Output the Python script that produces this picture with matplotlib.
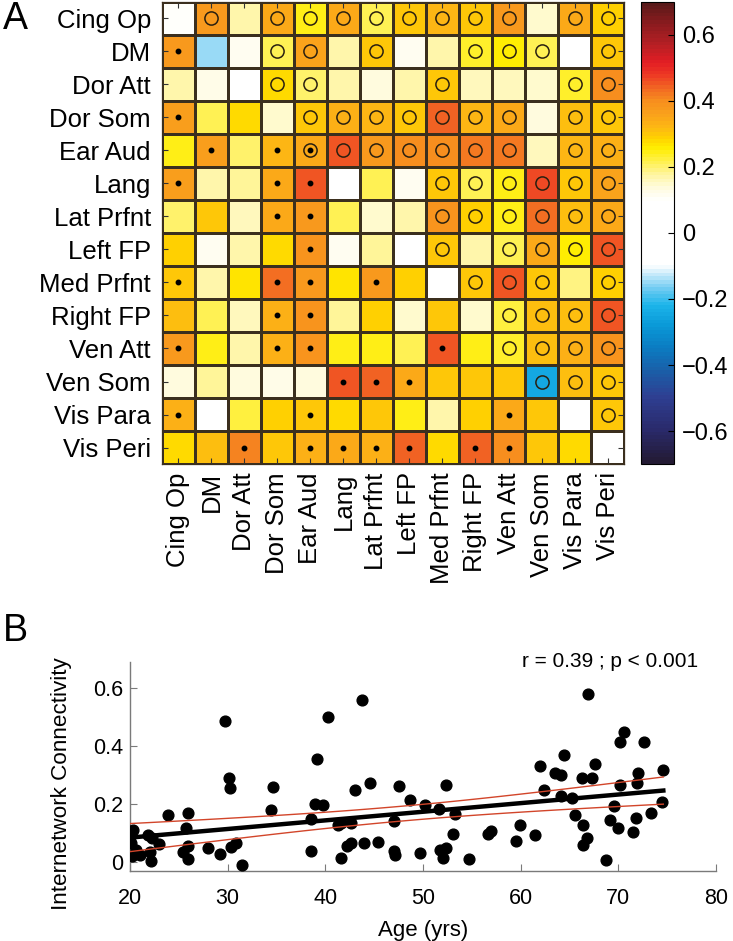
import numpy as np
import matplotlib
matplotlib.use("Agg")
import matplotlib.pyplot as plt
from matplotlib.colors import LinearSegmentedColormap

plt.rcParams['font.family'] = ['Liberation Sans', 'DejaVu Sans']

# ---- panel A data: mean internetwork connectivity change
networks = ["Cing Op", "DM", "Dor Att", "Dor Som", "Ear Aud", "Lang", "Lat Prfnt",
            "Left FP", "Med Prfnt", "Right FP", "Ven Att", "Ven Som", "Vis Para", "Vis Peri"]

conn_matrix = [
    [0.10, 0.38, 0.17, 0.35, 0.25, 0.35, 0.21, 0.30, 0.32, 0.30, 0.38, 0.15, 0.35, 0.29],
    [0.38, -0.15, 0.12, 0.21, 0.36, 0.17, 0.30, 0.12, 0.17, 0.24, 0.26, 0.21, 0.05, 0.30],
    [0.17, 0.13, 0.05, 0.28, 0.20, 0.17, 0.14, 0.17, 0.30, 0.16, 0.16, 0.15, 0.23, 0.40],
    [0.37, 0.21, 0.28, 0.15, 0.30, 0.33, 0.32, 0.30, 0.44, 0.32, 0.34, 0.14, 0.31, 0.30],
    [0.25, 0.37, 0.20, 0.32, 0.34, 0.45, 0.38, 0.40, 0.40, 0.42, 0.42, 0.16, 0.32, 0.33],
    [0.37, 0.17, 0.18, 0.34, 0.45, 0.05, 0.21, 0.12, 0.30, 0.21, 0.25, 0.46, 0.30, 0.36],
    [0.20, 0.30, 0.16, 0.35, 0.38, 0.21, 0.15, 0.17, 0.39, 0.29, 0.25, 0.43, 0.31, 0.35],
    [0.29, 0.12, 0.17, 0.28, 0.39, 0.12, 0.18, 0.05, 0.30, 0.17, 0.21, 0.35, 0.26, 0.45],
    [0.30, 0.17, 0.27, 0.43, 0.38, 0.27, 0.38, 0.29, 0.05, 0.30, 0.45, 0.30, 0.19, 0.29],
    [0.31, 0.21, 0.16, 0.33, 0.39, 0.18, 0.29, 0.15, 0.30, 0.15, 0.22, 0.31, 0.31, 0.45],
    [0.38, 0.25, 0.17, 0.33, 0.39, 0.25, 0.25, 0.21, 0.45, 0.25, 0.24, 0.31, 0.33, 0.39],
    [0.14, 0.18, 0.14, 0.13, 0.14, 0.45, 0.44, 0.34, 0.30, 0.30, 0.30, -0.25, 0.31, 0.30],
    [0.33, 0.05, 0.22, 0.29, 0.30, 0.28, 0.30, 0.25, 0.17, 0.29, 0.34, 0.30, 0.05, 0.30],
    [0.28, 0.31, 0.41, 0.30, 0.33, 0.35, 0.33, 0.44, 0.28, 0.44, 0.40, 0.30, 0.28, 0.05],
]

# significance marks: 'o' = circle, '.' = dot, '*' = both, ' ' = none
sig_marks = [
    " o oooooooo oo",
    ".  oo o  ooo o",
    "   oo   o   oo",
    ".   ooooooo oo",
    " . .*oooooo oo",
    ".  ..   oooooo",
    "   ..   oooooo",
    "    .   o oooo",
    ".  .. .  ooo o",
    "   ..     oooo",
    ".  ..   . oooo",
    "     ...   ooo",
    ".   .     .  o",
    "  . .... ..   ",
]

# ---- panel B data: age vs internetwork connectivity
age = [20.1, 20.3, 20.05, 20.2, 20.6, 21.0, 21.8, 22.0, 22.1, 22.3, 23.0, 23.9, 25.4, 25.7,
       25.9, 25.9, 25.9, 28.0, 29.2, 29.7, 30.1, 30.2, 30.3, 30.9, 31.5, 34.4, 34.6, 38.5,
       38.5, 38.9, 39.1, 39.8, 40.3, 41.3, 41.6, 41.6, 42.2, 42.6, 42.6, 43.0, 43.7, 44.0,
       44.6, 45.4, 47.0, 47.0, 47.1, 47.5, 48.7, 49.7, 50.2, 51.6, 51.7, 52.0, 52.3, 52.3,
       53.1, 53.3, 54.7, 56.7, 57.0, 59.5, 59.9, 61.5, 62.0, 62.4, 63.5, 64.1, 64.1, 64.4,
       65.3, 65.6, 66.3, 66.4, 66.4, 66.8, 66.9, 67.3, 67.6, 68.7, 69.1, 69.5, 70.0, 70.2,
       70.2, 70.6, 71.5, 71.8, 71.9, 72.0, 72.6, 73.3, 74.5, 74.6]
connectivity = [0.095, 0.11, 0.066, 0.02, 0.043, 0.026, 0.095, 0.037, 0.005, 0.084, 0.063,
                0.163, 0.037, 0.119, 0.169, 0.055, 0.012, 0.049, 0.029, 0.485, 0.29, 0.256,
                0.052, 0.066, -0.01, 0.18, 0.258, 0.15, 0.04, 0.2, 0.355, 0.197, 0.5, 0.13,
                0.136, 0.014, 0.055, 0.066, 0.136, 0.25, 0.558, 0.066, 0.273, 0.069, 0.142,
                0.04, 0.026, 0.264, 0.215, 0.031, 0.197, 0.185, 0.041, 0.014, 0.049, 0.267,
                0.098, 0.167, 0.012, 0.098, 0.107, 0.072, 0.13, 0.095, 0.33, 0.249, 0.308,
                0.299, 0.229, 0.371, 0.221, 0.162, 0.29, 0.128, 0.06, 0.084, 0.581, 0.29,
                0.337, 0.008, 0.145, 0.194, 0.119, 0.266, 0.415, 0.45, 0.105, 0.153, 0.273,
                0.308, 0.413, 0.171, 0.209, 0.319]
stats_text = "r = 0.39 ; p < 0.001"

# colormap (white around zero, hot above, blue below)
stops = [(-0.70, "#231a33"), (-0.60, "#2a2a6b"), (-0.50, "#2e3f92"), (-0.42, "#1a5fa8"),
         (-0.35, "#0b7cc2"), (-0.28, "#0a9ad8"), (-0.22, "#1cb5ea"), (-0.17, "#6fcbf2"),
         (-0.12, "#d2eefb"), (-0.10, "#ffffff"), (0.10, "#ffffff"), (0.14, "#fffbdc"),
         (0.18, "#fff59d"), (0.22, "#fff04a"), (0.26, "#ffed00"), (0.29, "#ffd200"),
         (0.32, "#fdb913"), (0.36, "#faa21b"), (0.40, "#f7901e"), (0.44, "#f26a23"),
         (0.48, "#ee3b24"), (0.52, "#e31e24"), (0.58, "#b21f24"), (0.64, "#8a1b1e"),
         (0.70, "#5a1a1a")]
cmap = LinearSegmentedColormap.from_list("hotcold", [((v + 0.7) / 1.4, c) for v, c in stops], N=128)

fig = plt.figure(figsize=(7.33, 9.41), dpi=100)

# ---------------- panel A
ax = fig.add_axes([0.2210, 0.5069, 0.6303, 0.4910])
vals = np.array(conn_matrix)
n = len(networks)
mesh = ax.pcolormesh(np.arange(n + 1), np.arange(n + 1), vals, cmap=cmap, vmin=-0.7, vmax=0.7,
                     edgecolors="#3b2f1e", linewidth=0.9)
ax.set_xlim(0, n)
ax.set_ylim(n, 0)
ax.set_xticks(np.arange(n) + 0.5)
ax.set_yticks(np.arange(n) + 0.5)
ax.set_xticklabels(networks, rotation=90, fontsize=18.5)
ax.set_yticklabels(networks, fontsize=18.5)
ax.tick_params(direction="in", top=True, right=True, length=4, width=0.8, color="#333333")
ax.tick_params(axis="y", pad=8)
ax.tick_params(axis="x", pad=6)
for s in ax.spines.values():
    s.set_linewidth(0.9)
    s.set_color("#3b2f1e")

for i, row in enumerate(sig_marks):
    for j, m in enumerate(row):
        if m in "o*":
            ax.plot(j + 0.5, i + 0.5, "o", ms=9.5, mfc="none", mec="#2a2010", mew=1.1)
        if m in ".*":
            ax.plot(j + 0.5, i + 0.5, "o", ms=3.2, mfc="black", mec="black")

cax = fig.add_axes([0.8745, 0.5069, 0.045, 0.4910])
cb = fig.colorbar(mesh, cax=cax)
cb.set_ticks([-0.6, -0.4, -0.2, 0, 0.2, 0.4, 0.6])
cb.set_ticklabels(["\u22120.6", "\u22120.4", "\u22120.2", "0", "0.2", "0.4", "0.6"])
cb.ax.tick_params(labelsize=17, length=4, direction="in", pad=6, width=0.8)
cb.outline.set_linewidth(0.8)

fig.text(0.0205, 0.980, "A", fontsize=27, ha="center", va="center")

# ---------------- panel B
bx = fig.add_axes([0.1774, 0.0744, 0.7995, 0.2221])
x = np.array(age)
y = np.array(connectivity)
bx.scatter(x, y, s=60, color="black", zorder=3)

# linear fit with 95% confidence band
slope, icpt = np.polyfit(x, y, 1)
xs = np.linspace(x.min(), x.max(), 100)
fit = icpt + slope * xs
resid = y - (icpt + slope * x)
dof = len(x) - 2
se = np.sqrt(np.sum(resid ** 2) / dof)
band = 1.986 * se * np.sqrt(1.0 / len(x) + (xs - x.mean()) ** 2 / np.sum((x - x.mean()) ** 2))
bx.plot(xs, fit, color="black", lw=3.2, zorder=4)
bx.plot(xs, fit + band, color="#d2452a", lw=1.0, zorder=4)
bx.plot(xs, fit - band, color="#d2452a", lw=1.0, zorder=4)

bx.set_xlim(20, 80)
bx.set_ylim(-0.03, 0.69)
bx.set_xticks([20, 30, 40, 50, 60, 70, 80])
bx.set_yticks([0, 0.2, 0.4, 0.6])
bx.set_yticklabels(["0", "0.2", "0.4", "0.6"])
bx.spines["top"].set_visible(False)
bx.spines["right"].set_visible(False)
for s in ["left", "bottom"]:
    bx.spines[s].set_color("#7a7a7a")
    bx.spines[s].set_linewidth(1.0)
bx.tick_params(direction="in", length=5, color="#7a7a7a", labelsize=15.5)
bx.tick_params(axis="x", pad=12)
bx.tick_params(axis="y", pad=5)
bx.set_xlabel("Age (yrs)", fontsize=16)
bx.set_ylabel("Internetwork Connectivity", fontsize=16.2)
bx.xaxis.set_label_coords(0.5, -0.235)
bx.yaxis.set_label_coords(-0.099, 0.42)
bx.text(60.1, 0.69, stats_text, fontsize=15, ha="left", va="center")

fig.text(0.0205, 0.329, "B", fontsize=27, ha="center", va="center")

fig.savefig("out.png", dpi=100)
